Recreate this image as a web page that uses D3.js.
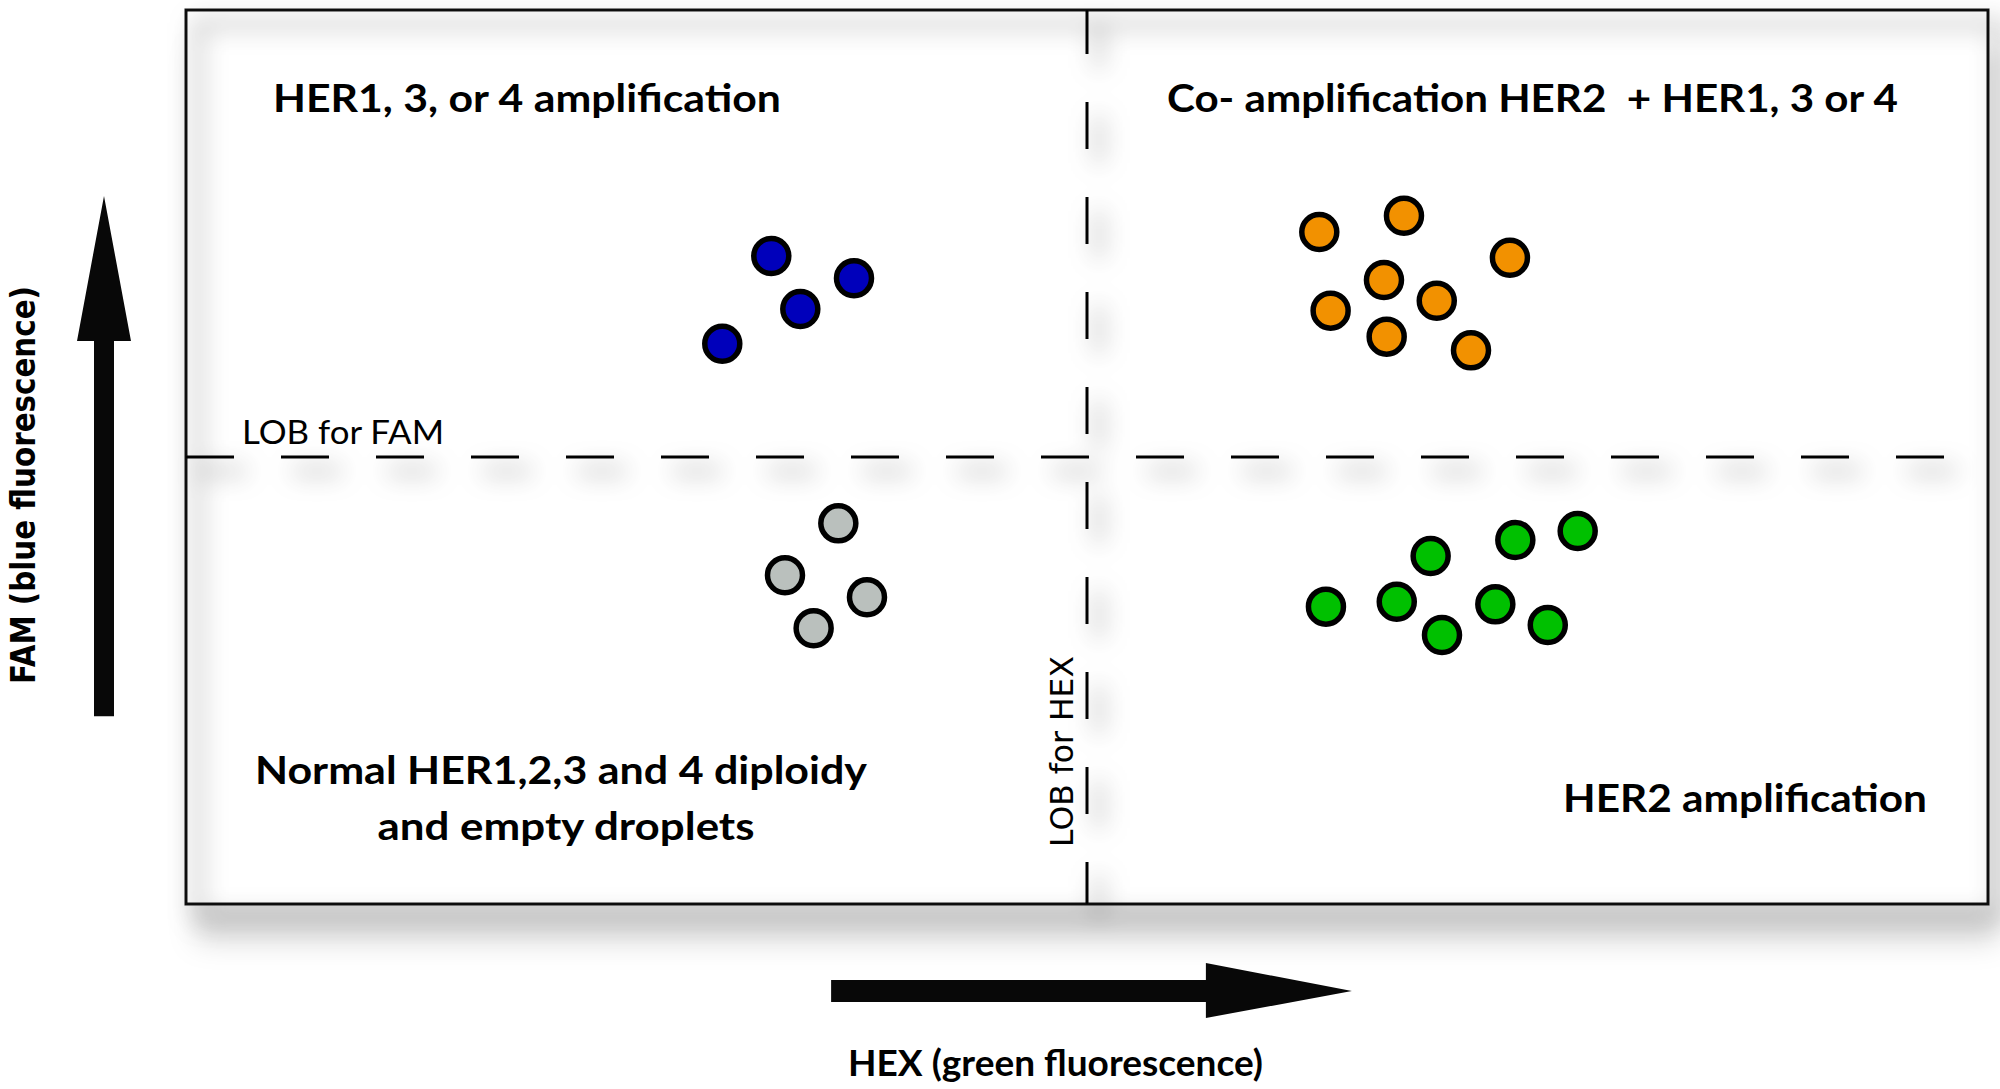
<!DOCTYPE html>
<html>
<head>
<meta charset="utf-8">
<script src="https://cdn.jsdelivr.net/npm/d3@7"></script>
<style>
  body { margin: 0; background: #fff; }
  svg { display: block; }
</style>
</head>
<body>
<script>

// droplet clusters, HEX (x) and FAM (y) amplitude in arbitrary units 0..100
var blueHEX   = [32.48, 37.07, 34.09, 29.76];
var blueFAM   = [72.48, 69.99, 66.55, 62.67];
var orangeHEX = [62.89, 67.59, 73.47, 66.48, 69.41, 63.52, 66.63, 71.31];
var orangeFAM = [75.17, 76.99, 72.29, 69.80, 67.48, 66.37, 63.46, 61.93];
var greyHEX   = [36.20, 33.24, 37.79, 34.83];
var greyFAM   = [42.58, 36.77, 34.31, 30.84];
var greenHEX  = [69.07, 73.77, 77.23, 63.26, 67.19, 72.66, 69.70, 75.57];
var greenFAM  = [38.93, 40.72, 41.72, 33.26, 33.81, 33.52, 30.09, 31.21];

// limits of blank
var lobHEX = 50;
var lobFAM = 50;

// axis arrows, in data units
var hexArrow = [35.8, 64.7];
var famArrow = [21, 79.2];

var quadrantLabels = [
  "HER1, 3, or 4 amplification",
  "Co- amplification HER2  + HER1, 3 or 4",
  "Normal HER1,2,3 and 4 diploidy",
  "and empty droplets",
  "HER2 amplification"
];
var lobLabels = ["LOB for FAM", "LOB for HEX"];
var axisLabels = ["HEX (green fluorescence)", "FAM (blue fluorescence)"];


var width = 2000, height = 1089;
var box = { left: 186, top: 10, right: 1988, bottom: 904 };

var svg = d3.select("body")
  .append("svg")
  .attr("width", width)
  .attr("height", height);

var xScale = d3.scaleLinear()
  .domain([0, 100])
  .range([box.left, box.right]);

var yScale = d3.scaleLinear()
  .domain([0, 100])
  .range([box.bottom, box.top]);

var defs = svg.append("defs");

defs.append("filter")
    .attr("id", "boxShadow")
    .attr("filterUnits", "userSpaceOnUse")
    .attr("x", 0).attr("y", 0).attr("width", width).attr("height", height)
  .append("feDropShadow")
    .attr("dx", 10).attr("dy", 38)
    .attr("stdDeviation", 14)
    .attr("flood-color", "#000")
    .attr("flood-opacity", 0.14);

defs.append("filter")
    .attr("id", "lineShadow")
    .attr("filterUnits", "userSpaceOnUse")
    .attr("x", 0).attr("y", 0).attr("width", width).attr("height", height)
  .append("feDropShadow")
    .attr("dx", 12).attr("dy", 14)
    .attr("stdDeviation", 12)
    .attr("flood-color", "#000")
    .attr("flood-opacity", 0.7);

// white panel with its soft drop shadow
svg.append("rect")
  .attr("x", xScale(0))
  .attr("y", yScale(100))
  .attr("width", xScale(100) - xScale(0))
  .attr("height", yScale(0) - yScale(100))
  .attr("fill", "#fff")
  .attr("filter", "url(#boxShadow)");

var frame = svg.append("g").attr("filter", "url(#lineShadow)");

frame.append("rect")
  .attr("x", xScale(0))
  .attr("y", yScale(100))
  .attr("width", xScale(100) - xScale(0))
  .attr("height", yScale(0) - yScale(100))
  .attr("fill", "none")
  .attr("stroke", "#111")
  .attr("stroke-width", 3);

frame.append("line")
  .attr("x1", xScale(0)).attr("x2", xScale(100))
  .attr("y1", yScale(lobFAM)).attr("y2", yScale(lobFAM))
  .attr("stroke", "#000")
  .attr("stroke-width", 3)
  .attr("stroke-dasharray", "48 47");

frame.append("line")
  .attr("x1", xScale(lobHEX)).attr("x2", xScale(lobHEX))
  .attr("y1", yScale(100)).attr("y2", yScale(0))
  .attr("stroke", "#000")
  .attr("stroke-width", 3)
  .attr("stroke-dasharray", "47 48")
  .attr("stroke-dashoffset", 3);

// droplets
var clusters = [
  { hex: blueHEX,   fam: blueFAM,   color: "#0000bb" },
  { hex: orangeHEX, fam: orangeFAM, color: "#f29100" },
  { hex: greyHEX,   fam: greyFAM,   color: "#bac0bd" },
  { hex: greenHEX,  fam: greenFAM,  color: "#00c000" }
];

clusters.forEach(function(c) {
  var pts = c.hex.map(function(h, i) { return { hex: h, fam: c.fam[i] }; });
  svg.append("g")
    .selectAll("circle")
    .data(pts)
    .enter()
    .append("circle")
      .attr("cx", function(d) { return xScale(d.hex); })
      .attr("cy", function(d) { return yScale(d.fam); })
      .attr("r", 17.5)
      .attr("fill", c.color)
      .attr("stroke", "#000")
      .attr("stroke-width", 5.5);
});

// quadrant titles
var titleFont = "Lato, 'Open Sans', sans-serif";
var titles = [
  { x: 273,  y: 112, w: 508, anchor: "start" },
  { x: 1167, y: 112, w: 731, anchor: "start" },
  { x: 561,  y: 784, w: 612, anchor: "middle" },
  { x: 566,  y: 840, w: 377, anchor: "middle" },
  { x: 1563, y: 812, w: 364, anchor: "start" }
];

svg.append("g")
  .selectAll("text")
  .data(titles)
  .enter()
  .append("text")
    .attr("x", function(d) { return d.x; })
    .attr("y", function(d) { return d.y; })
    .attr("text-anchor", function(d) { return d.anchor; })
    .attr("textLength", function(d) { return d.w; })
    .attr("lengthAdjust", "spacingAndGlyphs")
    .style("white-space", "pre")
    .style("font-family", titleFont)
    .style("font-weight", "bold")
    .style("font-size", "39px")
    .style("fill", "#000")
    .text(function(d, i) { return quadrantLabels[i]; });

// LOB labels
svg.append("text")
  .attr("x", 242)
  .attr("y", yScale(lobFAM) - 13)
  .attr("textLength", 202)
  .attr("lengthAdjust", "spacingAndGlyphs")
  .style("font-family", titleFont)
  .style("font-size", "33px")
  .style("fill", "#000")
  .text(lobLabels[0]);

svg.append("text")
  .attr("transform", "translate(" + (xScale(lobHEX) - 14) + ",847) rotate(-90)")
  .attr("textLength", 191)
  .attr("lengthAdjust", "spacingAndGlyphs")
  .style("font-family", "'DejaVu Sans', sans-serif")
  .style("font-size", "32px")
  .style("fill", "#000")
  .text(lobLabels[1]);

// axis arrows
var hexY = 991, famX = 104;

svg.append("path")
  .attr("d",
    "M" + xScale(hexArrow[0]) + "," + (hexY - 11) +
    "H" + (xScale(hexArrow[1]) - 146) +
    "V" + (hexY - 28) +
    "L" + xScale(hexArrow[1]) + "," + hexY +
    "L" + (xScale(hexArrow[1]) - 146) + "," + (hexY + 27) +
    "V" + (hexY + 11) +
    "H" + xScale(hexArrow[0]) + "Z")
  .attr("fill", "#080808");

svg.append("path")
  .attr("d",
    "M" + (famX - 10) + "," + yScale(famArrow[0]) +
    "V" + (yScale(famArrow[1]) + 145) +
    "H" + (famX - 27) +
    "L" + famX + "," + yScale(famArrow[1]) +
    "L" + (famX + 27) + "," + (yScale(famArrow[1]) + 145) +
    "H" + (famX + 10) +
    "V" + yScale(famArrow[0]) + "Z")
  .attr("fill", "#080808");

// axis titles
svg.append("text")
  .attr("x", 848)
  .attr("y", 1076)
  .attr("textLength", 415)
  .attr("lengthAdjust", "spacingAndGlyphs")
  .style("font-family", titleFont)
  .style("font-weight", "bold")
  .style("font-size", "36px")
  .style("fill", "#000")
  .text(axisLabels[0]);

svg.append("text")
  .attr("transform", "translate(35,684) rotate(-90)")
  .attr("textLength", 398)
  .attr("lengthAdjust", "spacingAndGlyphs")
  .style("font-family", "'DejaVu Sans', sans-serif")
  .style("font-weight", "bold")
  .style("font-size", "33px")
  .style("fill", "#000")
  .text(axisLabels[1]);

</script>
</body>
</html>
